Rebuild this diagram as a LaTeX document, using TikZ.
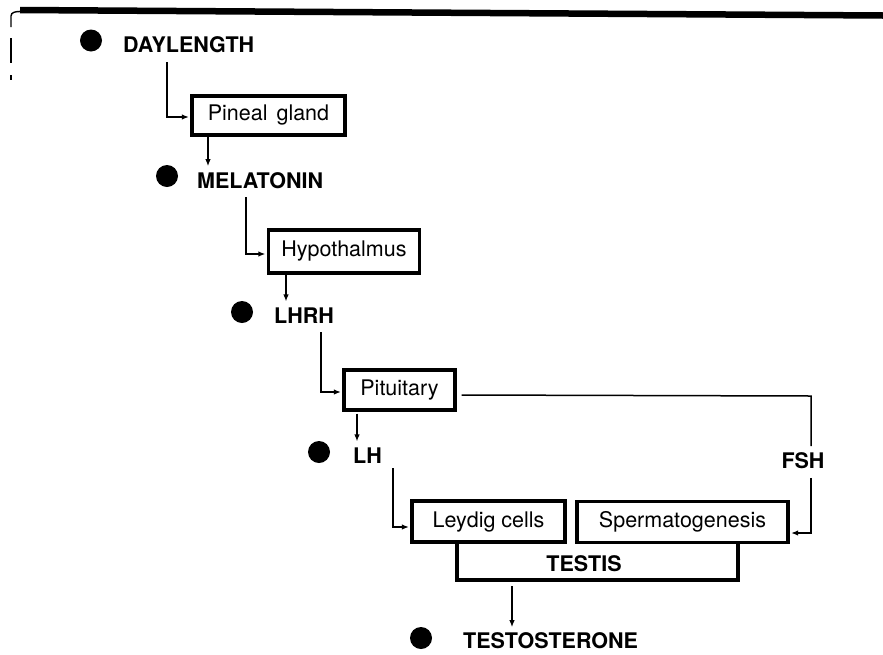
\documentclass[tikz,border=0pt]{standalone}
\usepackage{fontspec}
\setmainfont{TeX Gyre Heros}
\usetikzlibrary{arrows.meta}
\begin{document}
\begin{tikzpicture}[x=1pt,y=-1pt,
  box/.style={draw, line width=3.2pt, inner sep=0pt, font=\fontsize{21.5}{25}\selectfont},
  lbl/.style={anchor=west, inner sep=0pt, font=\fontsize{21.5}{25}\selectfont\bfseries},
  dot/.style={circle, fill=black, inner sep=0pt, minimum size=22pt},
  conn/.style={line width=1.5pt},
  arr/.style={conn, -{Latex[length=7pt,width=5.5pt]}, shorten >=1.5pt}]
\useasboundingbox (0,0) rectangle (883,654);

% frame remnants
\draw[line width=6.5pt] (20,10) -- (883,15.5);
\draw[line width=1.4pt] (11,27) -- (11,16) to[out=90,in=180] (20,11.5);
\draw[line width=1.4pt] (11,38) -- (11,63);
\draw[line width=1.4pt] (11,75) -- (11,80);

% labels with dots
\node[dot] (d1) at (91,40.5) {};
\node[lbl] (day) at (123,44.5) {DAYLENGTH};
\node[dot] (d2) at (167,176) {};
\node[lbl] (mel) at (197,181) {MELATONIN};
\node[dot] (d3) at (242,312) {};
\node[lbl] (lhrh) at (274,316) {LHRH};
\node[dot] (d4) at (319,452) {};
\node[lbl] (lh) at (353,455.5) {LH};
\node[dot] (d5) at (421,638) {};
\node[lbl] (testo) at (463,641) {TESTOSTERONE};
\node[lbl, anchor=center] (fsh) at (803,460.5) {FSH};

% boxes
\node[box, minimum width=153pt, minimum height=39pt] (pineal) at (268.5,115.5) {Pineal\hspace{3pt} gland};
\node[box, minimum width=151pt, minimum height=43pt] (hypo) at (344,251.5) {Hypothalmus};
\node[box, minimum width=111pt, minimum height=40pt] (pit) at (399.5,390) {\raisebox{3pt}{Pituitary}};
\node[minimum width=281pt, minimum height=38pt, inner sep=0pt, outer sep=0pt] (testis) at (597.5,561) {};
\draw[line width=3.2pt] (testis.north west) -- (testis.south west) -- (testis.south east) -- (testis.north east);
\node[lbl, anchor=center] (testislbl) at (584,564) {TESTIS};
\node[box, fill=white, minimum width=153pt, minimum height=41pt] (leydig) at (488.5,521.5) {Leydig cells};
\node[box, fill=white, minimum width=211pt, minimum height=41pt] (sperm) at (682.5,522) {Spermatogenesis};

% connectors
\coordinate (dl) at (167,62);
\draw[arr] (dl) |- ([yshift=-1.5pt]pineal.west);
\coordinate (p1) at (208,0);
\draw[arr, shorten >=6.5pt] (p1 |- pineal.south) -- (p1 |- mel.north);

\coordinate (mc) at (246,197);
\draw[arr] (mc) |- ([yshift=-2.5pt]hypo.west);
\coordinate (p2) at (286,0);
\draw[arr, shorten >=6.5pt] (p2 |- hypo.south) -- (p2 |- lhrh.north);

\coordinate (lc) at (321,332);
\draw[arr] (lc) |- ([yshift=-2pt]pit.west);
\coordinate (p3) at (357,0);
\draw[arr, shorten <=2pt, shorten >=6pt] (p3 |- pit.south) -- (p3 |- lh.north);

\coordinate (lhc) at (393,468);
\draw[arr] (lhc) |- ([yshift=-5.5pt]leydig.west);

\coordinate (fr) at (811,396);
\draw[conn, shorten >=6pt] ([xshift=5pt,yshift=-5pt]pit.east) -- (fr) -- (fr |- fsh.north);
\draw[arr, shorten <=9pt] (fr |- fsh.south) |- ([yshift=-11pt]sperm.east);

\coordinate (p4) at (512,0);
\draw[arr, shorten <=6pt, shorten >=5.5pt] (p4 |- testis.south) -- (p4 |- testo.north);
\end{tikzpicture}
\end{document}
